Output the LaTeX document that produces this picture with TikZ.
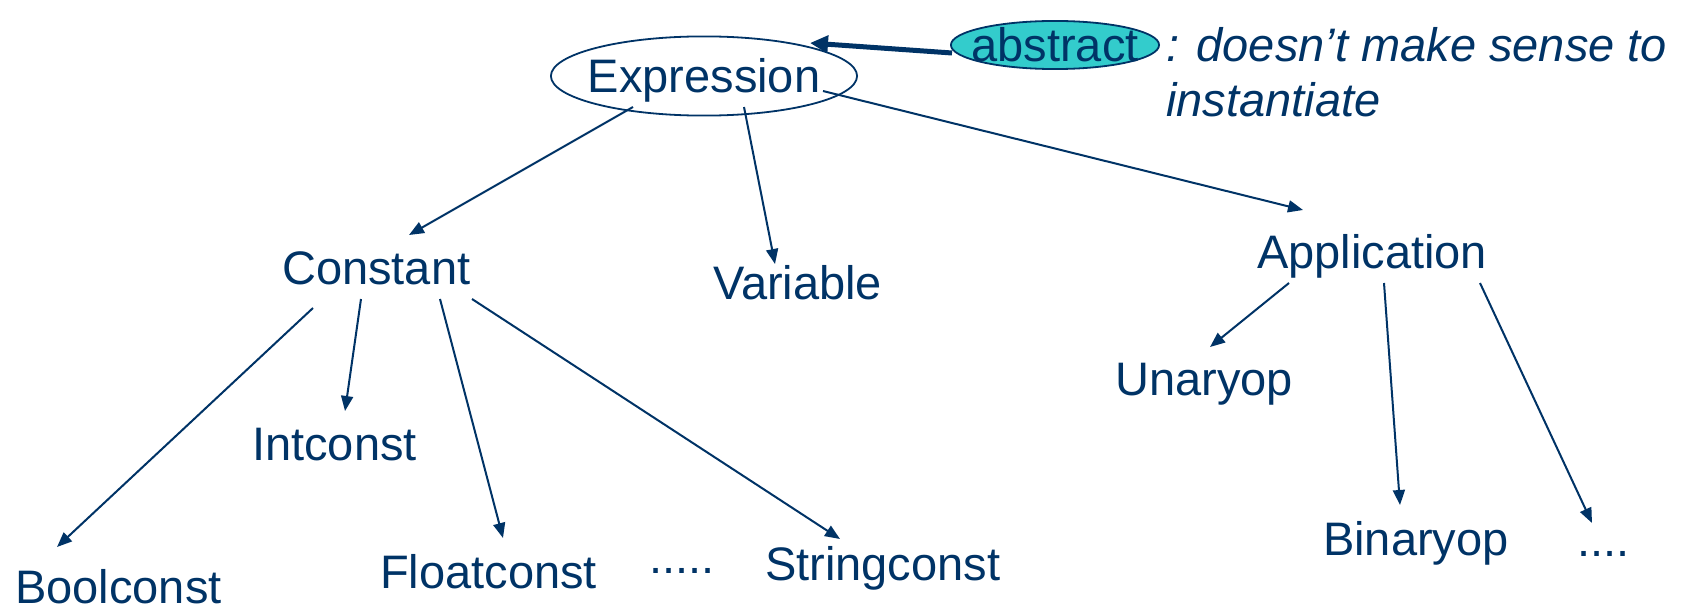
\documentclass[tikz,border=0pt]{standalone}
\usepackage{fontspec}
\setmainfont{Liberation Sans}
\usetikzlibrary{arrows.meta,shapes.geometric}
\definecolor{navy}{RGB}{0,51,102}
\definecolor{tealfill}{RGB}{51,204,204}
\begin{document}
\begin{tikzpicture}[x=1pt,y=-1pt,
  every node/.style={text=navy,font=\fontsize{47}{55}\selectfont},
  lbl/.style={anchor=base west,inner sep=0pt},
  conn/.style={draw=navy,line width=2pt,-{Triangle[length=15pt,width=12pt]}},
  thickconn/.style={draw=navy,line width=5pt,-{Triangle[length=18pt,width=17pt]}},
  ell/.style={ellipse,draw=navy,line width=1.8pt,text height=34pt,text depth=0pt}]
\useasboundingbox (0,0) rectangle (1692,607);

% nodes
\node[ell,inner xsep=-8pt,inner ysep=11pt] (expr) at (704,76) {Expression};
\node[ell,fill=tealfill,inner xsep=-10pt,inner ysep=0pt] (abs) at (1055,45) {abstract};
\node[lbl,align=left,font=\fontsize{47}{55}\selectfont\itshape] (note) at (1166,117) {: doesn’t make sense to\\instantiate};
\node[lbl] (const) at (282,284) {Constant};
\node[lbl] (var) at (713,299) {Variable};
\node[lbl] (app) at (1257,268) {Application};
\node[lbl] (unary) at (1115,395) {Unaryop};
\node[lbl] (int) at (252,460) {Intconst};
\node[lbl] (bool) at (15,603) {Boolconst};
\node[lbl] (float) at (380,588) {Floatconst};
\node[lbl] (dotsA) at (649,573) {.....};
\node[lbl] (string) at (765,580) {Stringconst};
\node[lbl] (binary) at (1323,555) {Binaryop};
\node[lbl] (dotsB) at (1577,556) {....};

% connectors
\draw[thickconn] ([shift={(-103,8)}]abs.center) -- ([shift={(106,-33)}]expr.center);
\draw[conn] ([shift={(-71,31)}]expr.center) -- ([shift={(127,-49)}]const.base west);
\draw[conn] ([shift={(40,31)}]expr.center) -- ([shift={(62,-35)}]var.base west);
\draw[conn] ([shift={(119,15)}]expr.center) -- ([shift={(46,-58)}]app.base west);
\draw[conn] ([shift={(31,24)}]const.base west) -- ([shift={(42,-56)}]bool.base west);
\draw[conn] ([shift={(79,15)}]const.base west) -- ([shift={(93,-49)}]int.base west);
\draw[conn] ([shift={(158,15)}]const.base west) -- ([shift={(123,-50)}]float.base west);
\draw[conn] ([shift={(190,15)}]const.base west) -- ([shift={(75,-41)}]string.base west);
\draw[conn] ([shift={(32,15)}]app.base west) -- ([shift={(95,-48)}]unary.base west);
\draw[conn] ([shift={(127,15)}]app.base west) -- ([shift={(77,-50)}]binary.base west);
\draw[conn] ([shift={(223,15)}]app.base west) -- ([shift={(15,-33)}]dotsB.base west);
\end{tikzpicture}
\end{document}
